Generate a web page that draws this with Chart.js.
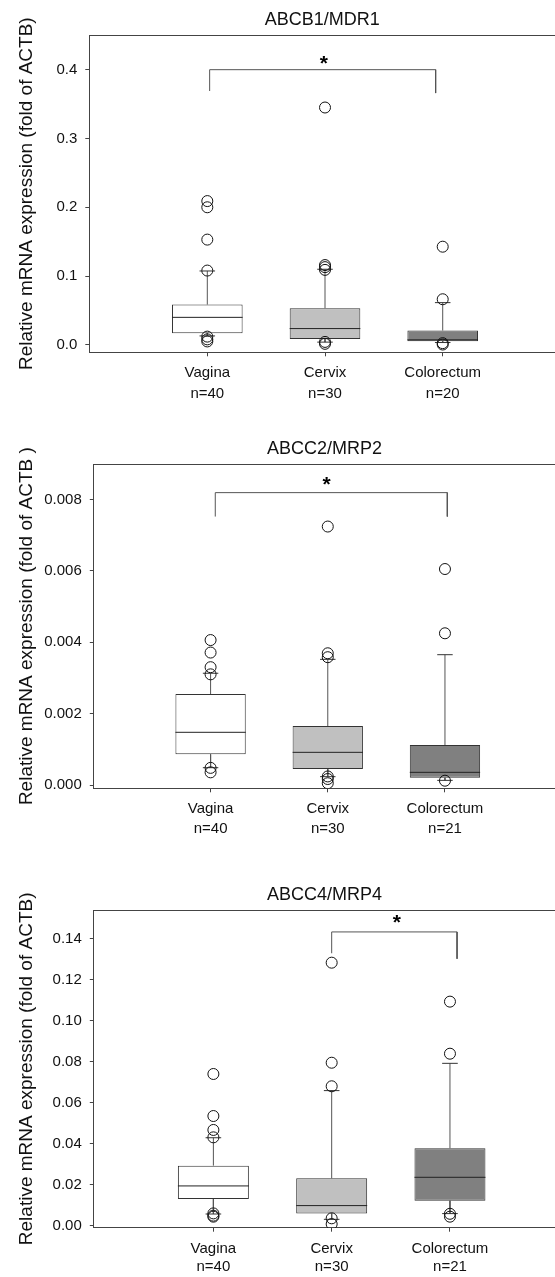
<!DOCTYPE html>
<html>
<head>
<meta charset="utf-8">
<title>ABC transporter mRNA expression</title>
<script src="https://cdn.jsdelivr.net/npm/chart.js"></script>
<style>
  html, body { margin: 0; padding: 0; background: #fff; }
  canvas { display: block; }
</style>
</head>
<body>
<canvas id="mdr1" width="555" height="420"></canvas>
<canvas id="mrp2" width="555" height="430"></canvas>
<canvas id="mrp4" width="555" height="427"></canvas>
<script>
const categories = ['Vagina', 'Cervix', 'Colorectum'];
const boxColors = ['#ffffff', '#c0c0c0', '#808080'];

// ABCB1/MDR1
const mdr1N = [40, 30, 20];
const mdr1Q1 = [0.017, 0.0087, 0.0054];
const mdr1Median = [0.040, 0.0237, 0.0073];
const mdr1Q3 = [0.0585, 0.0533, 0.0208];
const mdr1Low = [0.013, 0.004, 0.0034];
const mdr1High = [0.1074, 0.1099, 0.0614];
const mdr1Outliers = [
    [0.209, 0.200, 0.153, 0.108, 0.012, 0.008, 0.005],
    [0.345, 0.116, 0.113, 0.109, 0.0043, 0.0015],
    [0.1427, 0.0663, 0.0025, 0.0005]
];
const mdr1Ticks = [0, 0.1, 0.2, 0.3, 0.4];
const mdr1BracketX = [0.02, 1.94];
const mdr1BracketY = [0.369, 0.400, 0.366];
const mdr1Star = [0.99, 0.414];

// ABCC2/MRP2
const mrp2N = [40, 30, 21];
const mrp2Q1 = [0.00086, 0.000448, 0.000205];
const mrp2Median = [0.001476, 0.000915, 0.000355];
const mrp2Q3 = [0.002549, 0.00165, 0.00112];
const mrp2Low = [0.000485, 0.000233, 0.00013];
const mrp2High = [0.00313, 0.00352, 0.00365];
const mrp2Outliers = [
    [0.00406, 0.00371, 0.0033, 0.0031, 0.00048, 0.000355],
    [0.00724, 0.00369, 0.00358, 0.00024, 0.000168, 0.00005],
    [0.00605, 0.00425, 0.00012]
];
const mrp2Ticks = [0, 0.002, 0.004, 0.006, 0.008];
const mrp2BracketX = [0.04, 2.02];
const mrp2BracketY = [0.00752, 0.00819, 0.00752];
const mrp2Star = [0.99, 0.0085];

// ABCC4/MRP4
const mrp4N = [40, 30, 21];
const mrp4Q1 = [0.0130, 0.006, 0.0122];
const mrp4Median = [0.0194, 0.0098, 0.0236];
const mrp4Q3 = [0.0293, 0.0231, 0.0378];
const mrp4Low = [0.0057, 0.0031, 0.0059];
const mrp4High = [0.0429, 0.0659, 0.0792];
const mrp4Outliers = [
    [0.074, 0.0535, 0.0467, 0.0431, 0.006, 0.0049, 0.0044],
    [0.1283, 0.0795, 0.068, 0.0036, 0.0008],
    [0.1093, 0.0839, 0.0058, 0.0044]
];
const mrp4Ticks = [0, 0.02, 0.04, 0.06, 0.08, 0.10, 0.12, 0.14];
const mrp4BracketX = [1.0, 2.06];
const mrp4BracketY = [0.1329, 0.1433, 0.1302];
const mrp4Star = [1.55, 0.1495];

Chart.defaults.font.family = "'Liberation Sans', Arial, sans-serif";
Chart.defaults.color = '#111';
Chart.defaults.animation = false;

const axisColor = '#444';

// short horizontal segments centred on each category (medians, caps)
function hLines(values, half) {
    const pts = [];
    values.forEach((v, i) => {
        pts.push({ x: i - half, y: v }, { x: i + half, y: v }, { x: i, y: null });
    });
    return pts;
}

function whiskers(q1, q3, low, high) {
    const pts = [];
    categories.forEach((c, i) => {
        pts.push({ x: i, y: q3[i] }, { x: i, y: high[i] }, { x: i, y: null });
        pts.push({ x: i, y: q1[i] }, { x: i, y: low[i] }, { x: i, y: null });
    });
    return pts;
}

function outlierPoints(outliers) {
    const pts = [];
    outliers.forEach((list, i) => list.forEach(v => pts.push({ x: i, y: v })));
    return pts;
}

// top frame line and the significance star
const frameAndStar = {
    id: 'frameAndStar',
    afterDraw(chart, args, opts) {
        const { ctx, chartArea, scales } = chart;
        ctx.save();
        ctx.strokeStyle = axisColor;
        ctx.lineWidth = 1;
        ctx.beginPath();
        ctx.moveTo(chartArea.left, chartArea.top + 0.5);
        ctx.lineTo(chartArea.right, chartArea.top + 0.5);
        ctx.stroke();
        ctx.fillStyle = '#000';
        ctx.font = "bold 21px 'Liberation Sans', Arial, sans-serif";
        ctx.textAlign = 'center';
        ctx.textBaseline = 'middle';
        ctx.fillText('*', scales.x.getPixelForValue(opts.star[0]), scales.y.getPixelForValue(opts.star[1]) + 4);
        ctx.restore();
    }
};

function boxPanel(id, p) {
    const ctx = document.getElementById(id).getContext('2d');
    const lineStyle = { type: 'line', pointRadius: 0, pointHoverRadius: 0, borderWidth: 1, fill: false, tension: 0 };
    return new Chart(ctx, {
        type: 'bar',
        data: {
            datasets: [
                {
                    type: 'scatter',
                    label: 'Outliers',
                    data: outlierPoints(p.outliers),
                    pointRadius: 5.5,
                    pointHoverRadius: 5.5,
                    pointBorderWidth: 1,
                    pointBorderColor: '#111',
                    pointBackgroundColor: 'rgba(255,255,255,0)'
                },
                Object.assign({ label: 'Median', data: hLines(p.median, 0.3), borderColor: '#222' }, lineStyle),
                Object.assign({ label: 'Caps', data: hLines(p.high, 0.066).concat(hLines(p.low, 0.066)), borderColor: '#333' }, lineStyle),
                Object.assign({ label: 'Whiskers', data: whiskers(p.q1, p.q3, p.low, p.high), borderColor: '#555' }, lineStyle),
                Object.assign({
                    label: 'Significance',
                    data: [
                        { x: p.bracketX[0], y: p.bracketY[0] },
                        { x: p.bracketX[0], y: p.bracketY[1] },
                        { x: p.bracketX[1], y: p.bracketY[1] },
                        { x: p.bracketX[1], y: p.bracketY[2] }
                    ],
                    borderColor: '#555'
                }, lineStyle),
                {
                    type: 'bar',
                    label: 'IQR',
                    data: categories.map((c, i) => ({ x: i, y: [p.q1[i], p.q3[i]] })),
                    backgroundColor: boxColors,
                    borderColor: '#333',
                    borderWidth: 1,
                    borderSkipped: false,
                    barPercentage: 0.6,
                    categoryPercentage: 1
                }
            ]
        },
        options: {
            responsive: false,
            layout: { autoPadding: false, padding: { top: p.padTop, left: 0, right: 0, bottom: 0 } },
            scales: {
                x: {
                    type: 'linear',
                    min: p.xMin,
                    max: p.xMax,
                    offset: false,
                    afterBuildTicks: s => { s.ticks = categories.map((c, i) => ({ value: i })); },
                    afterFit: s => {
                        s.height = p.xHeight;
                        s.paddingLeft = 0;
                        s.paddingRight = 0;
                    },
                    ticks: {
                        callback: v => [categories[v], 'n=' + p.n[v]],
                        font: { size: 15, lineHeight: p.xLine },
                        padding: p.xPad,
                        autoSkip: false,
                        maxRotation: 0
                    },
                    grid: { drawOnChartArea: false, tickLength: 4, color: axisColor, offset: false },
                    border: { color: axisColor }
                },
                y: {
                    type: 'linear',
                    min: p.yMin,
                    max: p.yMax,
                    afterBuildTicks: s => { s.ticks = p.yTicks.map(v => ({ value: v })); },
                    afterFit: s => { s.width = p.yWidth; },
                    ticks: { callback: v => v.toFixed(p.dec), font: { size: 15 }, padding: 8 },
                    grid: { drawOnChartArea: false, tickLength: 4, color: axisColor },
                    border: { color: axisColor },
                    title: {
                        display: true,
                        text: p.yTitle,
                        font: { size: 19 },
                        padding: { top: 15.5, bottom: 0 }
                    }
                }
            },
            plugins: {
                legend: { display: false },
                tooltip: { enabled: false },
                title: {
                    display: true,
                    text: p.title,
                    fullSize: false,
                    font: { size: 18, weight: 'normal' },
                    color: '#111',
                    padding: { top: 9, bottom: 4.4 }
                },
                frameAndStar: { star: p.star }
            }
        },
        plugins: [frameAndStar]
    });
}

boxPanel('mdr1', {
    title: 'ABCB1/MDR1', yTitle: 'Relative mRNA expression (fold of ACTB)',
    n: mdr1N, q1: mdr1Q1, median: mdr1Median, q3: mdr1Q3, low: mdr1Low, high: mdr1High,
    outliers: mdr1Outliers, yTicks: mdr1Ticks, dec: 1,
    bracketX: mdr1BracketX, bracketY: mdr1BracketY, star: mdr1Star,
    yMin: -0.0108, yMax: 0.4504, xMin: -1.0025, xMax: 2.954,
    padTop: 0, yWidth: 89.3, xHeight: 67.7, xLine: 1.37, xPad: 6.7
});

boxPanel('mrp2', {
    title: 'ABCC2/MRP2', yTitle: 'Relative mRNA expression (fold of ACTB )',
    n: mrp2N, q1: mrp2Q1, median: mrp2Median, q3: mrp2Q3, low: mrp2Low, high: mrp2High,
    outliers: mrp2Outliers, yTicks: mrp2Ticks, dec: 3,
    bracketX: mrp2BracketX, bracketY: mrp2BracketY, star: mrp2Star,
    yMin: -0.0000924, yMax: 0.008992, xMin: -0.9966, xMax: 2.939,
    padTop: 9, yWidth: 93.8, xHeight: 61.7, xLine: 1.33, xPad: 7
});

boxPanel('mrp4', {
    title: 'ABCC4/MRP4', yTitle: 'Relative mRNA expression (fold of ACTB)',
    n: mrp4N, q1: mrp4Q1, median: mrp4Median, q3: mrp4Q3, low: mrp4Low, high: mrp4High,
    outliers: mrp4Outliers, yTicks: mrp4Ticks, dec: 2,
    bracketX: mrp4BracketX, bracketY: mrp4BracketY, star: mrp4Star,
    yMin: -0.00098, yMax: 0.1540, xMin: -1.011, xMax: 2.888,
    padTop: 25, yWidth: 93.8, xHeight: 49.3, xLine: 1.15, xPad: 9
});
</script>
</body>
</html>
